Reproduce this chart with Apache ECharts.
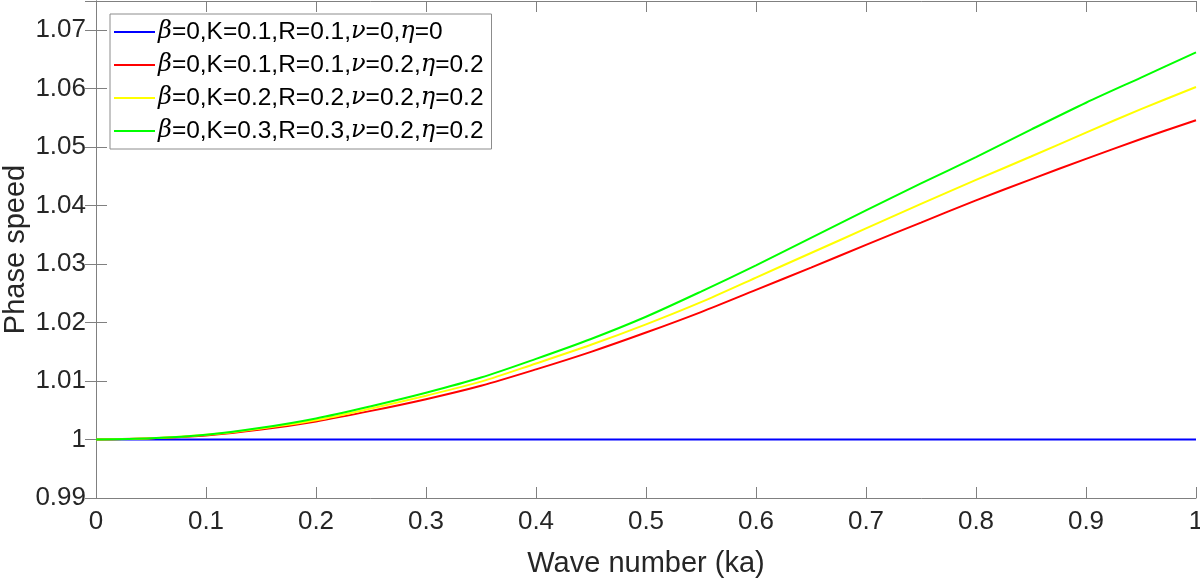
<!DOCTYPE html>
<html>
<head>
<meta charset="utf-8">
<script src="https://cdn.jsdelivr.net/npm/echarts@6/dist/echarts.min.js"></script>
<style>
  html, body { margin: 0; padding: 0; background: #fff; }
  #chart { width: 1200px; height: 581px; }
</style>
</head>
<body>
<div id="chart"></div>
<script>
// wave number (ka)
var ka = [0, 0.05, 0.1, 0.15, 0.2, 0.25, 0.3, 0.35, 0.4, 0.45, 0.5,
          0.55, 0.6, 0.65, 0.7, 0.75, 0.8, 0.85, 0.9, 0.95, 1];

// phase speed
var blue   = [1, 1, 1, 1, 1, 1, 1, 1, 1, 1, 1,
              1, 1, 1, 1, 1, 1, 1, 1, 1, 1];
var red    = [1.0, 1.0002, 1.0007, 1.0017, 1.0031, 1.0049, 1.0069, 1.0092, 1.0120, 1.0150, 1.0183,
              1.0218, 1.0256, 1.0294, 1.0333, 1.0371, 1.0409, 1.0445, 1.0480, 1.0514, 1.0546];
var yellow = [1.0, 1.0002, 1.0008, 1.0019, 1.0033, 1.0053, 1.0075, 1.0099, 1.0130, 1.0162, 1.0197,
              1.0235, 1.0277, 1.0319, 1.0361, 1.0403, 1.0444, 1.0484, 1.0525, 1.0565, 1.0603];
var green  = [1.0, 1.0002, 1.0008, 1.0020, 1.0036, 1.0057, 1.0080, 1.0106, 1.0138, 1.0172, 1.0210,
              1.0253, 1.0298, 1.0345, 1.0392, 1.0438, 1.0483, 1.0530, 1.0576, 1.0619, 1.0662];

var names = [
  'β=0,K=0.1,R=0.1,ν=0,η=0',
  'β=0,K=0.1,R=0.1,ν=0.2,η=0.2',
  'β=0,K=0.2,R=0.2,ν=0.2,η=0.2',
  'β=0,K=0.3,R=0.3,ν=0.2,η=0.2'
];
var colors = ['#0000ff', '#ff0000', '#ffff00', '#00ff00'];
var values = [blue, red, yellow, green];

function pairs(ys) {
  return ka.map(function (x, i) { return [x, ys[i]]; });
}

var axisColor = '#808080';
var labelColor = '#262626';
var font = '"Liberation Sans", Arial, sans-serif';

var series = values.map(function (ys, i) {
  return {
    name: names[i],
    type: 'line',
    data: pairs(ys),
    symbol: 'none',
    smooth: 0.3,
    lineStyle: { color: colors[i], width: 2 },
    itemStyle: { color: colors[i] }
  };
});

var option = {
  animation: false,
  backgroundColor: '#fff',
  grid: { left: 96, right: 4, top: 1, bottom: 83, containLabel: false, outerBoundsMode: 'none' },
  legend: {
    orient: 'vertical',
    left: 110,
    top: 14,
    icon: 'rect',
    itemWidth: 41,
    itemHeight: 2,
    itemGap: 7,
    padding: [5, 8, 5, 4],
    backgroundColor: '#fff',
    borderColor: '#8c8c8c',
    borderWidth: 1,
    data: names,
    formatter: function (n) {
      return n.replace(/([βνη])/g, '{g|$1}');
    },
    textStyle: {
      fontFamily: font,
      fontSize: 24.5,
      color: '#000',
      lineHeight: 26,
      padding: [0, 0, 0, -2],
      rich: {
        g: { fontFamily: '"DejaVu Serif", "Liberation Serif", serif', fontStyle: 'italic', fontSize: 24, color: '#000' }
      }
    }
  },
  xAxis: [{
    type: 'value',
    min: 0, max: 1, interval: 0.1,
    name: 'Wave number (ka)',
    nameLocation: 'middle',
    nameGap: 51,
    nameTextStyle: { fontFamily: font, fontSize: 29, color: labelColor },
    axisLine: { show: true, onZero: false, lineStyle: { color: axisColor, width: 1 } },
    axisTick: { show: true, inside: true, length: 11, lineStyle: { color: axisColor } },
    axisLabel: {
      margin: 11, fontFamily: font, fontSize: 26, color: labelColor,
      formatter: function (v) { return String(+v.toFixed(1)); }
    },
    splitLine: { show: false }
  }, {
    type: 'value',
    position: 'top',
    min: 0, max: 1, interval: 0.1,
    axisLine: { show: true, lineStyle: { color: axisColor, width: 1 } },
    axisTick: { show: true, inside: true, length: 11, lineStyle: { color: axisColor } },
    axisLabel: { show: false },
    splitLine: { show: false }
  }],
  yAxis: [{
    type: 'value',
    min: 0.99, max: 1.075, interval: 0.01,
    name: 'Phase speed',
    nameLocation: 'middle',
    nameGap: 66,
    nameMoveOverlap: false,
    nameTextStyle: { fontFamily: font, fontSize: 29, color: labelColor },
    axisLine: { show: true, onZero: false, lineStyle: { color: axisColor, width: 1 } },
    axisTick: { show: true, inside: true, length: 11, lineStyle: { color: axisColor } },
    axisLabel: {
      margin: 10, fontFamily: font, fontSize: 26, color: labelColor,
      showMaxLabel: false,
      formatter: function (v) { return String(+v.toFixed(2)); }
    },
    splitLine: { show: false }
  }, {
    type: 'value',
    position: 'right',
    min: 0.99, max: 1.075, interval: 0.01,
    axisLine: { show: true, lineStyle: { color: axisColor, width: 1 } },
    axisTick: { show: true, inside: true, length: 11, lineStyle: { color: axisColor } },
    axisLabel: { show: false },
    splitLine: { show: false }
  }],
  series: series
};

var myChart = echarts.init(document.getElementById('chart'));
myChart.setOption(option);
</script>
</body>
</html>
